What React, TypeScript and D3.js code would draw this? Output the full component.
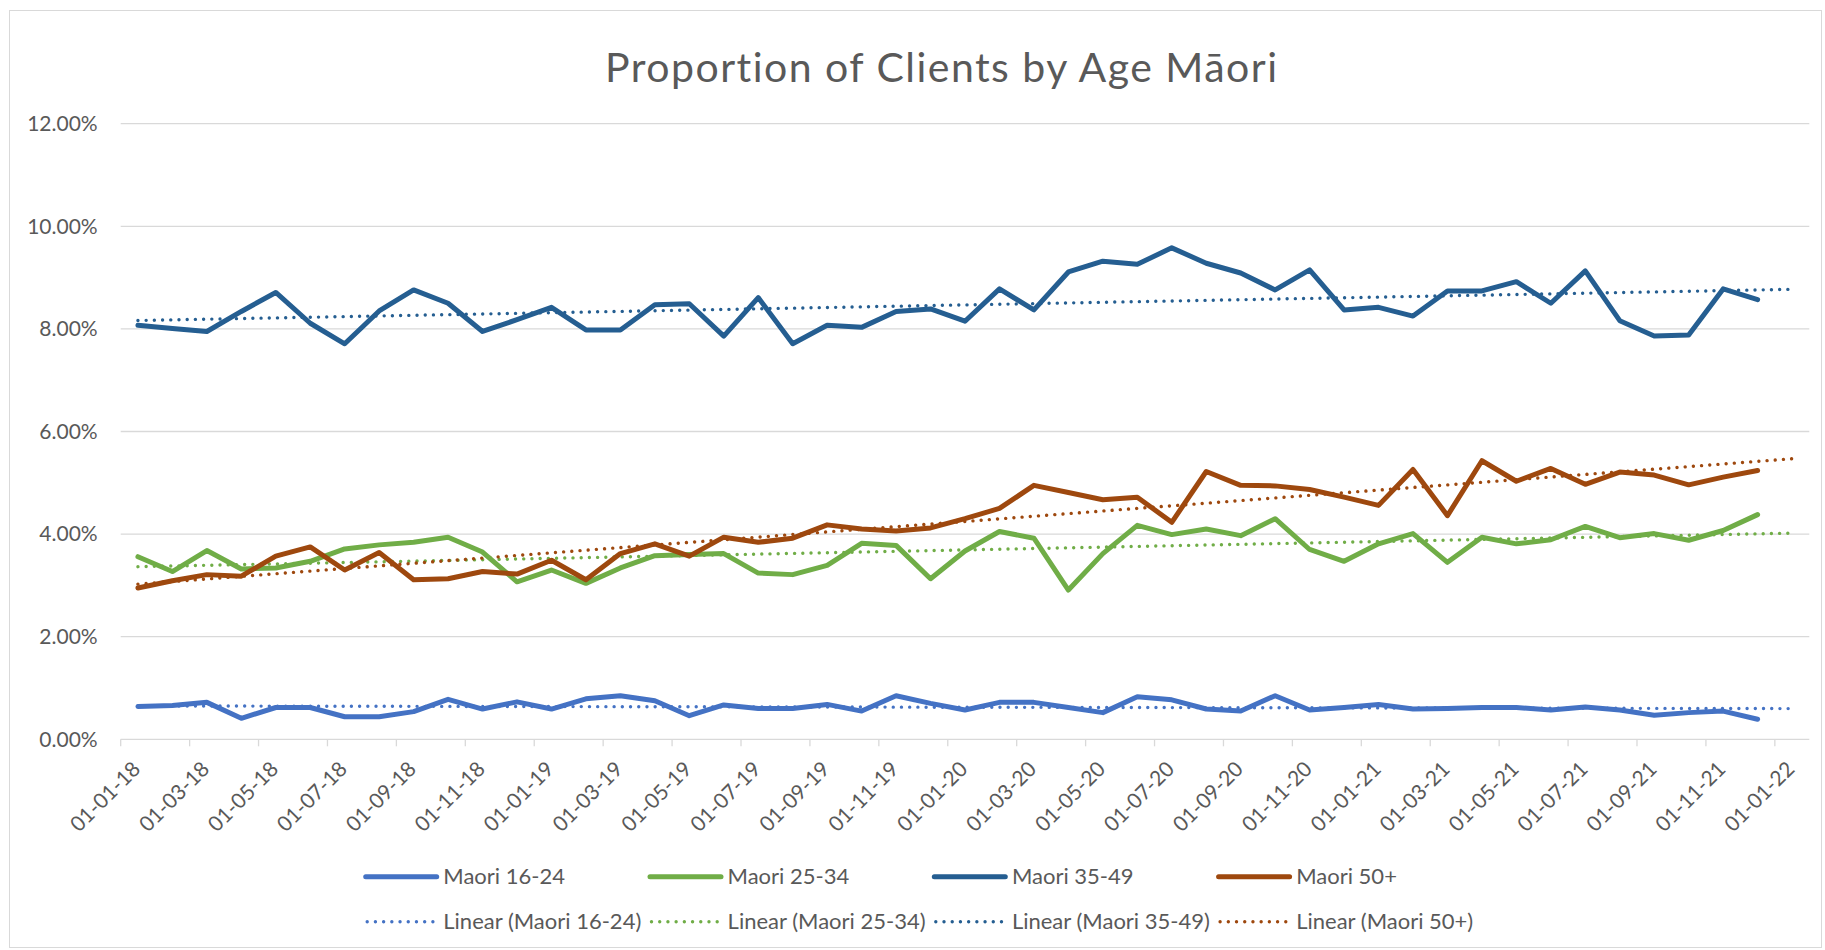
import React from "react";
import * as d3 from "d3";

// ---- Data (values in %) ----
const startMonth = new Date(2018, 0, 1);
const months: Date[] = d3.timeMonth.range(startMonth, new Date(2022, 0, 1));
const tickMonths: Date[] = d3.timeMonth.every(2)!.range(startMonth, new Date(2022, 0, 2));
const yTicks = [0, 2, 4, 6, 8, 10, 12];

const maori1624 = [0.64, 0.66, 0.72, 0.41, 0.62, 0.62, 0.44, 0.44, 0.54, 0.78, 0.59, 0.73,
  0.59, 0.79, 0.85, 0.75, 0.46, 0.67, 0.60, 0.60, 0.68, 0.55, 0.85, 0.70,
  0.57, 0.72, 0.72, 0.62, 0.52, 0.83, 0.77, 0.59, 0.55, 0.85, 0.57, 0.62,
  0.68, 0.59, 0.60, 0.62, 0.62, 0.57, 0.63, 0.57, 0.47, 0.52, 0.55, 0.39];
const maori2534 = [3.56, 3.27, 3.68, 3.32, 3.34, 3.47, 3.71, 3.79, 3.84, 3.94, 3.65, 3.07,
  3.30, 3.04, 3.34, 3.58, 3.60, 3.62, 3.24, 3.21, 3.39, 3.82, 3.78, 3.13,
  3.67, 4.05, 3.92, 2.91, 3.62, 4.17, 3.99, 4.10, 3.97, 4.30, 3.70, 3.47,
  3.81, 4.01, 3.45, 3.94, 3.81, 3.89, 4.15, 3.93, 4.01, 3.88, 4.07, 4.38];
const maori3549 = [8.07, 8.01, 7.95, 8.34, 8.71, 8.11, 7.71, 8.35, 8.76, 8.50, 7.95, 8.18,
  8.42, 7.98, 7.98, 8.47, 8.49, 7.86, 8.61, 7.71, 8.07, 8.03, 8.34, 8.39,
  8.15, 8.78, 8.37, 9.11, 9.32, 9.26, 9.58, 9.28, 9.09, 8.76, 9.15, 8.37,
  8.42, 8.25, 8.74, 8.74, 8.92, 8.50, 9.13, 8.16, 7.86, 7.88, 8.78, 8.57];
const maori50 = [2.95, 3.09, 3.21, 3.18, 3.57, 3.75, 3.30, 3.64, 3.11, 3.13, 3.27, 3.22,
  3.49, 3.11, 3.62, 3.81, 3.57, 3.94, 3.84, 3.92, 4.18, 4.10, 4.06, 4.12,
  4.30, 4.50, 4.95, 4.81, 4.67, 4.72, 4.23, 5.22, 4.95, 4.94, 4.87, 4.72,
  4.56, 5.26, 4.36, 5.43, 5.03, 5.28, 4.97, 5.21, 5.15, 4.96, 5.11, 5.24];

const seriesNames = ["Maori 16-24", "Maori 25-34", "Maori 35-49", "Maori 50+"];
const seriesValues = [maori1624, maori2534, maori3549, maori50];
const seriesColors = ["#4472C4", "#70AD47", "#255E91", "#9E480E"];

const title = "Proportion of Clients by Age M\u0101ori";

// ---- Layout ----
const W = 1825;
const H = 950;
const plotLeft = 120.7;
const plotRight = 1809.3;
const plotBottom = 739.3;
const plotTop = 123.7;
const FONT = "Lato, 'Open Sans', sans-serif";
const TEXT = "#595959";
const GRID = "#d9d9d9";

const nSlots = months.length + 1; // axis runs one extra month
const x = d3.scaleLinear().domain([0, nSlots]).range([plotLeft, plotRight]);
const y = d3.scaleLinear().domain([0, 12]).range([plotBottom, plotTop]);

const fmtTick = d3.timeFormat("%d-%m-%y");
const fmtPct = (v: number) => v.toFixed(2) + "%";

function monthIndex(d: Date) {
  return (d.getFullYear() - startMonth.getFullYear()) * 12 + d.getMonth() - startMonth.getMonth();
}

function linearFit(vals: number[]) {
  const xs = vals.map((_, i) => i);
  const mx = d3.mean(xs)!;
  const my = d3.mean(vals)!;
  let num = 0, den = 0;
  xs.forEach((xi, i) => {
    num += (xi - mx) * (vals[i] - my);
    den += (xi - mx) * (xi - mx);
  });
  const slope = num / den;
  const icpt = my - slope * mx;
  return (i: number) => icpt + slope * i;
}

const line = d3
  .line<[number, number]>()
  .x((d) => x(d[0] + 0.5))
  .y((d) => y(d[1]));

export default function App() {
  const legendX0 = 365.7;
  const legendDX = 284.3;
  const legendRow1 = 876.7;
  const legendRow2 = 921.7;
  const lineLen = 71;

  return (
    <svg
      width={W}
      height={H}
      style={{ position: "absolute", left: 0, top: 0, display: "block", background: "#fff", fontVariantLigatures: "none" }}
      fontFamily={FONT}
    >
      <rect x={9.5} y={10.5} width={1812} height={937} fill="#fff" stroke={GRID} strokeWidth={1} />

      <text
        x={941}
        y={82.3}
        textAnchor="middle"
        fontSize={41}
        fill={TEXT}
        textLength={672}
        lengthAdjust="spacing"
      >
        {title}
      </text>

      {/* gridlines & y labels */}
      {yTicks.map((t) => (
        <g key={t}>
          {t !== 0 && (
            <line x1={plotLeft} x2={plotRight} y1={y(t)} y2={y(t)} stroke={GRID} strokeWidth={1.3} />
          )}
          <text x={97.7} y={y(t)} dy="0.35em" textAnchor="end" fontSize={21} fill={TEXT}>
            {fmtPct(t)}
          </text>
        </g>
      ))}

      {/* x axis */}
      <line x1={plotLeft} x2={plotRight} y1={plotBottom} y2={plotBottom} stroke={GRID} strokeWidth={1.3} />
      {tickMonths.map((d) => {
        const tx = x(monthIndex(d));
        return (
          <g key={+d}>
            <line x1={tx} x2={tx} y1={plotBottom} y2={plotBottom + 7} stroke={GRID} strokeWidth={1.3} />
            <text
              transform={`translate(${tx + 21},${plotBottom + 31}) rotate(-45)`}
              textAnchor="end"
              fontSize={21}
              fill={TEXT}
            >
              {fmtTick(d)}
            </text>
          </g>
        );
      })}

      {/* trendlines */}
      {seriesValues.map((vals, s) => {
        const f = linearFit(vals);
        const pts: [number, number][] = d3.range(0, months.length + 1).map((i) => [i, f(i)]);
        return (
          <path
            key={"t" + s}
            d={line(pts) || ""}
            fill="none"
            stroke={seriesColors[s]}
            strokeWidth={3.4}
            strokeLinecap="round"
            strokeDasharray="0.01 8.2"
          />
        );
      })}

      {/* series lines */}
      {seriesValues.map((vals, s) => {
        const pts: [number, number][] = vals.map((v, i) => [i, v]);
        return (
          <path
            key={"s" + s}
            d={line(pts) || ""}
            fill="none"
            stroke={seriesColors[s]}
            strokeWidth={5}
            strokeLinecap="round"
            strokeLinejoin="round"
          />
        );
      })}

      {/* legend */}
      {seriesNames.map((name, s) => {
        const lx = legendX0 + s * legendDX;
        return (
          <g key={"l" + s}>
            <line
              x1={lx}
              x2={lx + lineLen}
              y1={legendRow1}
              y2={legendRow1}
              stroke={seriesColors[s]}
              strokeWidth={5}
              strokeLinecap="round"
            />
            <text x={lx + lineLen + 6.6} y={legendRow1} dy="0.35em" fontSize={22} fill={TEXT}>
              {name}
            </text>
            <line
              x1={lx + 1.5}
              x2={lx + lineLen - 1}
              y1={legendRow2}
              y2={legendRow2}
              stroke={seriesColors[s]}
              strokeWidth={3.4}
              strokeLinecap="round"
              strokeDasharray="0.01 8.2"
            />
            <text x={lx + lineLen + 6.6} y={legendRow2} dy="0.35em" fontSize={22} fill={TEXT}>
              {`Linear (${name})`}
            </text>
          </g>
        );
      })}
    </svg>
  );
}
